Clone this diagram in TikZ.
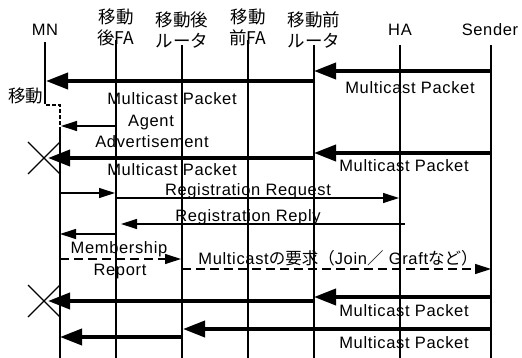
\documentclass[tikz,border=0pt]{standalone}
\usepackage{fontspec}
\setmainfont{Liberation Sans}[LetterSpace=4]
\newfontfamily\cjk{Noto Sans CJK JP}
\usetikzlibrary{arrows.meta}
\begin{document}
\begin{tikzpicture}[x=1pt,y=-1pt,
  lifeline/.style={line width=1.2pt},
  moveline/.style={line width=1.1pt,dash pattern=on 4pt off 2pt},
  bigmsg/.style={line width=3.8pt,-{Triangle[length=22pt,width=16pt]}},
  bigline/.style={line width=3.8pt},
  smallmsg/.style={line width=1.2pt,-{Triangle[length=16pt,width=10pt]}},
  smallline/.style={line width=1.2pt},
  dashmsg/.style={line width=1.2pt,dash pattern=on 9pt off 5pt,-{Triangle[length=16pt,width=10pt]}},
  dashline/.style={line width=1.2pt,dash pattern=on 9pt off 5pt},
  lbl/.style={anchor=base,inner sep=0pt,font=\fontsize{16.5}{18}\selectfont},
  hdr/.style={anchor=base,inner sep=0pt,font=\fontsize{16.5}{18}\selectfont},
  hdrj/.style={inner sep=0pt,align=center,font=\fontsize{17.5}{21}\selectfont\cjk},
  cross/.style={line width=1.1pt}]
\useasboundingbox (0,0) rectangle (522,358);
\newcommand\msg[5]{\coordinate (#1a) at (#3,#5); \coordinate (#1b) at (#4,#5); \draw[#2] (#1a) -- (#1b);}
\newcommand\lifel[3]{\coordinate (#1t) at (#2,#3); \coordinate (#1b) at (#2,358); \draw[lifeline] (#1t) -- (#1b);}

% headers
\node[hdr] (hMN) at (45,36) {MN};
\node[hdrj] (hNFA) at (116,27) {移動\\後FA};
\node[hdrj] (hNR) at (182,30) {移動後\\ルータ};
\node[hdrj] (hOFA) at (248,27) {移動\\前FA};
\node[hdrj] (hOR) at (314,30) {移動前\\ルータ};
\node[hdr] (hHA) at (400,36) {HA};
\node[hdr] (hS) at (490,36) {Sender};

% lifelines
\lifel{NFA}{116}{40}
\lifel{NR}{182}{45}
\lifel{OFA}{248}{40}
\lifel{OR}{314}{45}
\lifel{HA}{400}{45}
\lifel{S}{491}{45}

% MN lifeline with move
\coordinate (mnT) at (45,42);
\coordinate (mnM) at (45,100);
\coordinate (mnC) at (45,105);
\coordinate (mnD) at (60,105);
\coordinate (mnE) at (60,127);
\coordinate (mnB) at (60,358);
\draw[lifeline] (mnT) -- (mnM);
\draw[moveline] (mnM) -- (mnC) -- (mnD) -- (mnE);
\draw[lifeline] (mnE) -- (mnB);
\node[hdrj] (mv) at (26,96) {移動};

% messages
\msg{m1}{bigmsg}{491}{314}{71}
\msg{m2}{bigmsg}{314}{46}{81}
\node[lbl] (t1) at (410,94) {Multicast Packet};
\node[lbl] (t2) at (172,105) {Multicast Packet};

\msg{m3}{smallmsg}{116}{61}{126}
\node[lbl] (t3) at (151,127) {Agent};
\node[lbl] (t4) at (152,148) {Advertisement};

\msg{m4}{bigmsg}{491}{314}{153}
\msg{m5}{bigmsg}{314}{48}{158}
\coordinate (x1) at (44,158);
\draw[cross] (x1) ++(-16,-16) -- ++(32,32) (x1) ++(-16,16) -- ++(32,-32);
\node[lbl] (t5) at (404,172) {Multicast Packet};
\node[lbl] (t6) at (172,176) {Multicast Packet};

\msg{m6}{smallmsg}{60}{115}{193}
\msg{m7}{smallmsg}{116}{399}{198}
\node[lbl] (t7) at (248,196) {Registration Request};

\msg{m8}{smallmsg}{405}{121}{224}
\node[lbl] (t8) at (248,222) {Registration Reply};

\msg{m9}{smallmsg}{116}{60}{234}

\msg{m10}{dashmsg}{60}{181}{259}
\node[lbl] (t9) at (119,254) {Membership};
\node[lbl] (t10) at (120,275) {Report};

\msg{m11}{dashmsg}{182}{491}{269}
\node[lbl] (t11) at (338,265) {Multicast{\cjk\fontsize{16.5}{18}\selectfont の要求（}Join{\cjk\fontsize{16.5}{18}\selectfont ／} Graft{\cjk\fontsize{16.5}{18}\selectfont など）}};

\msg{m12}{bigmsg}{491}{314}{297}
\msg{m13}{bigmsg}{314}{48}{301}
\coordinate (x2) at (44,301);
\draw[cross] (x2) ++(-16,-16) -- ++(32,32) (x2) ++(-16,16) -- ++(32,-32);
\node[lbl] (t12) at (404,316) {Multicast Packet};

\msg{m14}{bigmsg}{491}{183}{329}
\msg{m15}{bigmsg}{182}{60}{337}
\node[lbl] (t13) at (404,348) {Multicast Packet};
\end{tikzpicture}
\end{document}
